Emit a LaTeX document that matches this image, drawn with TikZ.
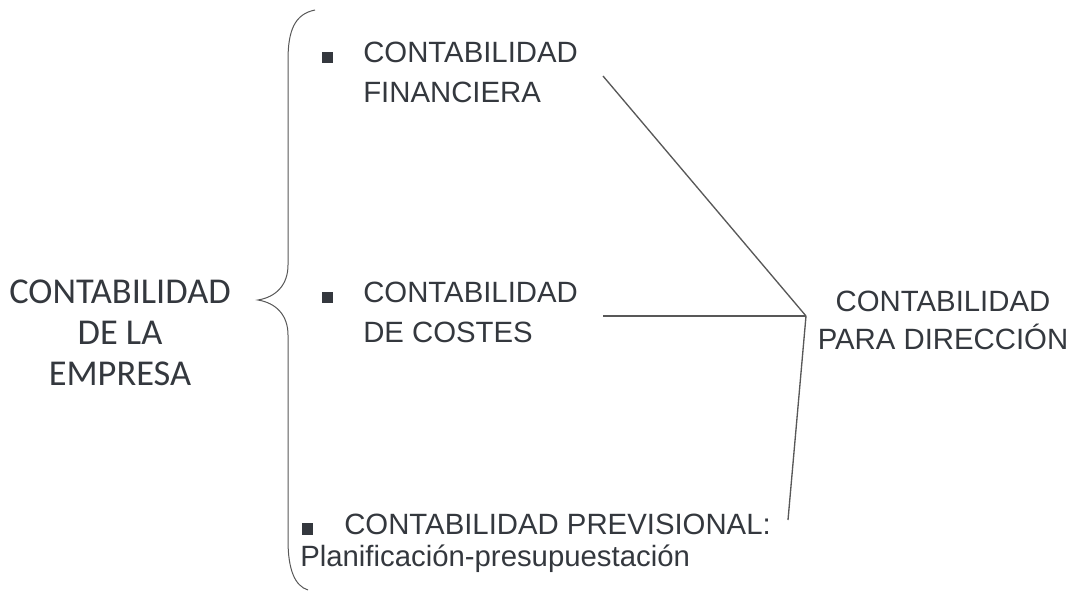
\documentclass[tikz,border=0pt]{standalone}
\usepackage{fontspec}
\setmainfont{Liberation Sans}
\newfontfamily\calibrifont{Carlito}
\usetikzlibrary{positioning,calc}

\definecolor{textgray}{RGB}{52,56,62}
\definecolor{linegray}{RGB}{88,88,88}

\tikzset{
    txt/.style={anchor=north west, inner sep=0pt, align=left, text=textgray,
        font=\fontsize{22}{30}\selectfont},
    sq/.style={fill=textgray, minimum size=8.3pt, inner sep=0pt},
    link/.style={draw=linegray, line width=1pt}
}

\begin{document}
\begin{tikzpicture}[x=0.75pt, y=-0.75pt]
            \useasboundingbox (0,0) rectangle (1071,592);

            % left title
            \node[anchor=north, inner sep=0pt, align=center, text=textgray,
                font=\calibrifont\fontsize{27.3}{30.75}\selectfont] (empresa) at (120,280)
                {CONTABILIDAD\\DE LA\\EMPRESA};

            % the brace
            \draw[linegray, line width=0.75pt] (315,10) .. controls (295,14) and (288,30) .. (288,60)
                -- (288,265) .. controls (288,285) and (276,297) .. (258,300)
                .. controls (276,303) and (288,315) .. (288,335)
                -- (288,540) .. controls (288,570) and (295,586) .. (308,590);

            % the three kinds
            \node[sq] (b1) at (327.5,57.5) {};
            \node[txt] (fin) at (363,42) {CONTABILIDAD\\FINANCIERA};
            \node[sq] (b2) at (327.5,297.5) {};
            \node[txt] (cos) at (363,282) {CONTABILIDAD\\DE COSTES};
            \node[sq] (b3) at (307.5,529) {};
            \node[txt] (prev) at (344,514) {CONTABILIDAD PREVISIONAL:};
            \node[txt] (plan) at (300,545) {Planificación-presupuestación};

            % right title
            \node[anchor=north, inner sep=0pt, align=center, text=textgray,
                font=\fontsize{22}{28.5}\selectfont] (dir) at (943,291)
                {CONTABILIDAD\\PARA DIRECCIÓN};

            % ends of the links
            \coordinate (finEnd) at (603,76);
            \coordinate (cosEnd) at (603,316);
            \coordinate (prevEnd) at (788,520);
            \coordinate (junc) at (806,316);

            \draw[link] (finEnd) -- (junc);
            \draw[link] (cosEnd) -- (junc);
            \draw[link] (junc) -- (prevEnd);
        \end{tikzpicture}
\end{document}
